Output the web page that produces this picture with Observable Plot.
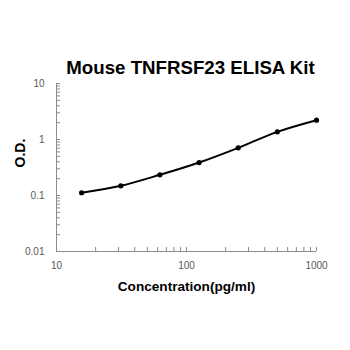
<!DOCTYPE html>
<html>
<head>
<meta charset="utf-8">
<script src="https://cdn.jsdelivr.net/npm/d3@7"></script>
<script src="https://cdn.jsdelivr.net/npm/@observablehq/plot@0.6"></script>
<style>
  html, body { margin: 0; padding: 0; background: #fff; }
  svg { display: block; }
</style>
</head>
<body>
<div id="chart"></div>
<script>
const concentration = [15.6, 31.25, 62.5, 125, 250, 500, 1000];
const od = [0.112, 0.149, 0.234, 0.388, 0.71, 1.37, 2.21];
const xTickLabels = [10, 100, 1000];
const yTickLabels = [0.01, 0.1, 1, 10];
const xMinorTicks = [10, 20, 30, 40, 50, 60, 70, 80, 90, 100, 200, 300, 400, 500, 600, 700, 800, 900, 1000];
const yMinorTicks = [0.01, 0.02, 0.03, 0.04, 0.05, 0.06, 0.07, 0.08, 0.09,
  0.1, 0.2, 0.3, 0.4, 0.5, 0.6, 0.7, 0.8, 0.9,
  1, 2, 3, 4, 5, 6, 7, 8, 9, 10];
const title = "Mouse TNFRSF23 ELISA Kit";
const xLabel = "Concentration(pg/ml)";
const yLabel = "O.D.";

const data = concentration.map((c, i) => ({c, v: od[i]}));

const W = 350, H = 350;
const mL = 56, mR = 34, mT = 83, mB = 99;
const pw = W - mL - mR, ph = H - mT - mB;
const axisGray = "#8c8c8c";
const labelGray = "#595959";
const font = "Liberation Sans, Arial, sans-serif";

const chart = Plot.plot({
  width: W,
  height: H,
  marginLeft: mL,
  marginRight: mR,
  marginTop: mT,
  marginBottom: mB,
  style: {fontFamily: font, background: "#fff"},
  x: {type: "log", domain: [10, 1000], axis: null},
  y: {type: "log", domain: [0.01, 10], axis: null},
  marks: [
    Plot.tickX(xMinorTicks, {x: d => d, insetTop: ph - 4, stroke: axisGray, strokeWidth: 1}),
    Plot.tickY(yMinorTicks, {y: d => d, insetRight: pw - 4, stroke: axisGray, strokeWidth: 1}),
    Plot.ruleY([0.01], {stroke: axisGray, strokeWidth: 1}),
    Plot.ruleX([10], {stroke: axisGray, strokeWidth: 1}),
    Plot.axisX({ticks: xTickLabels, tickSize: 0, tickPadding: 10, tickFormat: d => String(d), fill: labelGray, fontSize: 10, label: null}),
    Plot.axisY({ticks: yTickLabels, tickSize: 0, tickPadding: 12, tickFormat: d => String(d), fill: labelGray, fontSize: 10, label: null}),
    Plot.line(data, {x: "c", y: "v", curve: "catmull-rom", stroke: "#000", strokeWidth: 2}),
    Plot.dot(data, {x: "c", y: "v", r: 2.6, fill: "#000", stroke: "none"}),
    Plot.text([title], {text: d => d, frameAnchor: "top", lineAnchor: "bottom", dx: 4, dy: -10, fontSize: 18.7, fontWeight: "bold", fill: "#000"}),
    Plot.text([xLabel], {text: d => d, frameAnchor: "bottom", lineAnchor: "top", dy: 30, fontSize: 13.6, fontWeight: "bold", fill: "#000"}),
    Plot.text([yLabel], {text: d => d, frameAnchor: "left", rotate: -90, dx: -36, dy: 0, fontSize: 14, fontWeight: "bold", fill: "#000"})
  ]
});
document.getElementById("chart").appendChild(chart);
</script>
</body>
</html>
